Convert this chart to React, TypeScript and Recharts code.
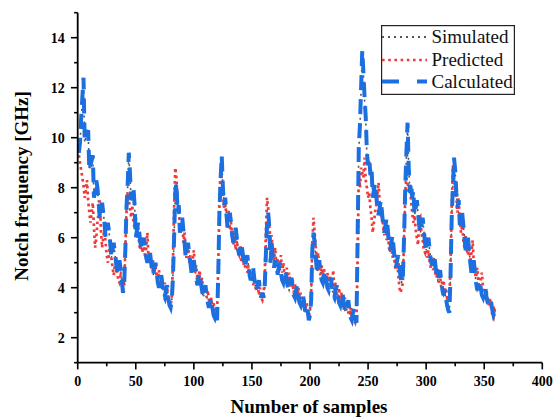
import React from 'react';
import { LineChart, Line, XAxis, YAxis, Legend, Label } from 'recharts';

const xTicks = [0, 25, 50, 75, 100, 125, 150, 175, 200, 225, 250, 275, 300, 325, 350, 375, 400];
const yTicks = [1, 2, 3, 4, 5, 6, 7, 8, 9, 10, 11, 12, 13, 14, 15];
const seriesNames = ['Simulated', 'Predicted', 'Calculated'];

const simulated = [
  9.4, 9.7, 10.7, 11.5, 12.3, 9.8, 10.0, 10.2, 10.2, 8.7, 8.9, 9.0, 9.2, 7.6, 7.9, 8.2, 7.9, 7.4, 6.8, 7.1, 7.3, 7.0, 6.6, 6.0, 6.3, 6.5, 6.2, 5.8, 5.2, 5.5, 5.7, 5.4, 5.0, 4.6, 4.8, 5.0, 4.7, 4.3, 3.8, 4.1,
  5.5, 7.1, 8.0, 9.3, 8.5, 7.5, 7.7, 7.9, 7.3, 6.0, 6.3, 6.5, 6.2, 5.8, 5.5, 5.7, 5.9, 5.6, 5.2, 5.0, 5.2, 5.4, 5.1, 4.7, 4.5, 4.7, 4.9, 4.6, 4.2, 4.0, 4.2, 4.4, 4.1, 3.7, 3.6, 3.8, 4.0, 3.6, 3.3, 3.2,
  3.5, 4.5, 6.0, 7.7, 8.2, 7.0, 7.2, 6.2, 6.4, 6.7, 6.3, 5.8, 5.2, 5.4, 5.7, 5.3, 5.0, 4.6, 4.8, 5.0, 4.7, 4.4, 4.1, 4.3, 4.5, 4.2, 3.9, 3.6, 3.8, 4.0, 3.7, 3.4, 3.2, 3.3, 3.5, 3.2, 2.9, 2.8, 3.0, 2.7,
  4.6, 7.0, 8.3, 9.2, 8.0, 7.3, 7.5, 7.0, 6.4, 6.6, 6.9, 6.6, 6.1, 5.8, 6.0, 6.3, 6.0, 5.6, 5.3, 5.5, 5.7, 5.4, 5.0, 4.8, 5.0, 5.2, 4.9, 4.5, 4.3, 4.5, 4.7, 4.4, 4.0, 3.9, 4.0, 4.2, 3.9, 3.6, 3.8, 3.6,
  4.0, 5.3, 6.4, 7.0, 6.4, 5.0, 5.7, 5.2, 4.8, 5.0, 4.6, 4.5, 4.7, 4.9, 4.6, 4.3, 4.2, 4.4, 4.6, 4.3, 4.0, 3.9, 4.1, 4.3, 4.0, 3.7, 3.6, 3.8, 4.0, 3.7, 3.4, 3.3, 3.5, 3.6, 3.3, 3.0, 2.9, 3.1, 2.7, 2.9,
  3.6, 5.5, 6.2, 5.8, 5.2, 4.6, 4.8, 5.0, 4.6, 4.3, 4.2, 4.4, 4.6, 4.3, 4.0, 3.9, 4.1, 4.3, 4.0, 3.7, 3.6, 3.8, 4.0, 3.7, 3.4, 3.3, 3.5, 3.7, 3.4, 3.1, 3.0, 3.2, 3.4, 3.1, 2.8, 2.7, 2.9, 3.1, 2.8, 2.6,
  6.0, 9.5, 10.4, 11.9, 13.4, 12.5, 11.5, 10.7, 9.3, 8.9, 9.1, 8.5, 8.7, 7.6, 7.8, 8.1, 7.7, 7.2, 6.9, 7.1, 7.4, 7.0, 6.5, 6.2, 6.4, 6.7, 6.3, 5.8, 5.5, 5.7, 6.0, 5.6, 5.1, 4.8, 5.0, 5.2, 4.8, 4.4, 4.2, 4.4,
  6.0, 8.0, 9.3, 10.5, 8.8, 7.8, 8.1, 7.6, 7.8, 6.9, 7.1, 7.4, 7.0, 6.5, 6.2, 6.4, 6.7, 6.3, 5.8, 5.5, 5.7, 5.9, 5.5, 5.1, 4.9, 5.0, 5.2, 4.9, 4.5, 4.3, 4.4, 4.6, 4.3, 3.9, 3.7, 3.8, 3.6, 3.3, 3.1, 3.0,
  4.5, 6.8, 8.0, 9.1, 8.6, 7.8, 7.2, 7.4, 6.5, 6.7, 6.9, 6.5, 6.0, 5.5, 5.7, 5.9, 5.5, 5.0, 4.6, 4.8, 5.0, 4.6, 4.2, 3.9, 4.0, 4.2, 4.0, 3.7, 3.6, 3.7, 3.9, 3.6, 3.4, 3.3, 3.4, 3.4, 3.1, 2.9, 3.0, 2.9,
];

const predicted = [
  9.3, 9.0, 8.7, 8.4, 8.1, 7.6, 7.9, 8.3, 7.5, 7.0, 6.6, 7.0, 7.4, 6.4, 5.6, 6.0, 6.6, 7.0, 7.5, 6.3, 5.6, 6.0, 6.4, 5.8, 5.3, 5.0, 5.4, 5.8, 5.2, 4.8, 4.5, 4.9, 5.2, 4.6, 4.3, 4.2, 4.5, 4.4, 4.0, 4.1,
  5.5, 7.0, 7.8, 7.5, 7.2, 6.8, 7.3, 6.6, 6.4, 6.9, 6.0, 6.4, 5.7, 5.5, 5.9, 5.4, 5.8, 5.2, 5.6, 6.2, 5.1, 5.4, 4.9, 4.7, 5.1, 4.6, 4.9, 4.4, 4.3, 4.7, 4.2, 4.5, 4.0, 3.9, 4.2, 3.8, 4.0, 3.6, 3.4, 3.3,
  3.6, 5.0, 7.2, 8.8, 8.4, 7.5, 7.0, 6.6, 6.2, 6.7, 5.8, 6.2, 5.5, 5.2, 5.8, 5.0, 5.3, 4.8, 5.1, 5.5, 4.6, 4.9, 4.4, 4.3, 4.7, 4.1, 4.4, 3.9, 3.8, 4.1, 3.6, 3.9, 3.5, 3.3, 3.6, 3.2, 3.4, 3.0, 3.2, 3.1,
  4.8, 7.5, 8.8, 8.2, 7.8, 7.2, 7.5, 6.8, 6.6, 7.1, 6.3, 6.6, 6.0, 5.7, 6.2, 5.5, 5.9, 5.4, 5.3, 5.7, 5.0, 5.4, 4.9, 4.8, 5.2, 4.6, 4.9, 4.5, 4.3, 4.7, 4.1, 4.4, 4.0, 3.9, 4.2, 3.7, 4.0, 3.6, 3.5, 3.7,
  4.5, 6.2, 7.6, 7.2, 6.5, 5.8, 6.1, 5.3, 5.1, 5.6, 4.9, 5.2, 4.7, 4.9, 5.3, 4.6, 5.0, 4.5, 4.4, 4.8, 4.2, 4.6, 4.1, 4.0, 4.4, 3.8, 4.2, 3.7, 3.6, 4.0, 3.5, 3.8, 3.3, 3.2, 3.6, 3.1, 3.4, 3.0, 2.9, 3.1,
  3.8, 5.8, 6.8, 6.2, 5.6, 5.0, 5.4, 4.7, 4.5, 4.9, 4.4, 4.8, 4.3, 4.2, 4.6, 4.1, 4.5, 4.0, 4.2, 4.7, 3.9, 4.2, 3.7, 3.6, 4.0, 3.5, 3.8, 3.3, 3.2, 3.6, 3.1, 3.4, 3.0, 2.9, 3.2, 2.8, 3.0, 2.7, 2.6, 2.8,
  5.0, 8.5, 8.0, 8.8, 8.6, 8.4, 9.2, 8.3, 8.0, 7.6, 7.8, 7.2, 6.8, 6.2, 6.6, 7.0, 7.3, 7.7, 8.2, 7.4, 6.8, 7.1, 6.4, 6.1, 6.6, 5.9, 6.2, 5.6, 5.4, 5.8, 5.2, 5.5, 4.9, 4.7, 5.1, 4.5, 4.0, 3.8, 4.0, 4.2,
  6.0, 7.6, 8.4, 8.2, 7.8, 8.0, 7.5, 7.0, 6.6, 6.9, 6.3, 6.0, 5.7, 6.7, 6.8, 6.2, 5.9, 5.5, 5.4, 5.9, 5.2, 5.5, 5.0, 4.8, 5.2, 4.7, 5.0, 4.5, 4.4, 4.8, 4.2, 4.5, 4.0, 3.9, 4.3, 3.8, 4.0, 3.6, 3.7, 3.5,
  5.0, 7.2, 8.9, 8.4, 8.0, 7.6, 7.0, 7.6, 6.7, 6.2, 6.5, 5.9, 5.6, 6.1, 5.5, 5.3, 5.6, 5.0, 5.4, 5.9, 5.0, 4.6, 4.4, 4.8, 4.2, 4.0, 4.4, 4.6, 4.0, 3.8, 3.6, 3.9, 3.5, 3.3, 3.6, 3.2, 2.9, 2.8, 3.1, 3.0,
];

const calculated = [
  9.4, 9.8, 10.8, 11.6, 12.4, 9.9, 10.1, 10.2, 10.3, 8.7, 8.9, 9.1, 9.3, 7.6, 7.9, 8.3, 8.0, 7.4, 6.8, 7.1, 7.4, 7.0, 6.6, 6.0, 6.3, 6.6, 6.2, 5.8, 5.2, 5.5, 5.8, 5.4, 5.0, 4.6, 4.8, 5.1, 4.7, 4.3, 3.8, 4.1,
  5.5, 7.2, 8.1, 9.4, 8.6, 7.5, 7.8, 8.0, 7.3, 6.0, 6.3, 6.6, 6.2, 5.8, 5.5, 5.8, 6.0, 5.6, 5.2, 5.0, 5.3, 5.5, 5.1, 4.7, 4.5, 4.8, 5.0, 4.6, 4.2, 4.0, 4.3, 4.5, 4.1, 3.7, 3.6, 3.9, 4.1, 3.6, 3.3, 3.2,
  3.5, 4.4, 6.0, 7.8, 8.2, 7.0, 7.3, 6.2, 6.5, 6.8, 6.3, 5.8, 5.2, 5.5, 5.8, 5.3, 5.0, 4.6, 4.9, 5.1, 4.7, 4.4, 4.1, 4.4, 4.6, 4.2, 3.9, 3.6, 3.9, 4.1, 3.7, 3.4, 3.2, 3.4, 3.6, 3.2, 2.9, 2.8, 3.0, 2.7,
  4.5, 7.0, 8.3, 9.3, 8.0, 7.3, 7.6, 7.0, 6.4, 6.7, 7.0, 6.6, 6.1, 5.8, 6.1, 6.4, 6.0, 5.6, 5.3, 5.6, 5.8, 5.4, 5.0, 4.8, 5.1, 5.3, 4.9, 4.5, 4.3, 4.6, 4.8, 4.4, 4.0, 3.9, 4.1, 4.3, 3.9, 3.6, 3.8, 3.6,
  4.0, 5.3, 6.5, 7.0, 6.4, 5.0, 5.8, 5.2, 4.8, 5.1, 4.6, 4.5, 4.8, 5.0, 4.6, 4.3, 4.2, 4.5, 4.7, 4.3, 4.0, 3.9, 4.2, 4.4, 4.0, 3.7, 3.6, 3.9, 4.1, 3.7, 3.4, 3.3, 3.5, 3.7, 3.3, 3.0, 2.9, 3.1, 2.7, 2.9,
  3.5, 5.5, 6.2, 5.8, 5.2, 4.6, 4.9, 5.1, 4.6, 4.3, 4.2, 4.5, 4.7, 4.3, 4.0, 3.9, 4.2, 4.4, 4.0, 3.7, 3.6, 3.9, 4.1, 3.7, 3.4, 3.3, 3.6, 3.8, 3.4, 3.1, 3.0, 3.3, 3.5, 3.1, 2.8, 2.7, 3.0, 3.2, 2.8, 2.6,
  6.0, 9.6, 10.5, 12.0, 13.5, 12.6, 11.6, 10.8, 9.4, 8.9, 9.2, 8.5, 8.8, 7.6, 7.9, 8.2, 7.7, 7.2, 6.9, 7.2, 7.5, 7.0, 6.5, 6.2, 6.5, 6.8, 6.3, 5.8, 5.5, 5.8, 6.1, 5.6, 5.1, 4.8, 5.1, 5.3, 4.8, 4.4, 4.2, 4.5,
  6.0, 8.0, 9.4, 10.6, 8.8, 7.8, 8.2, 7.6, 7.9, 6.9, 7.2, 7.5, 7.0, 6.5, 6.2, 6.5, 6.8, 6.3, 5.8, 5.5, 5.8, 6.0, 5.5, 5.1, 4.9, 5.1, 5.3, 4.9, 4.5, 4.3, 4.5, 4.7, 4.3, 3.9, 3.7, 3.9, 3.6, 3.3, 3.1, 3.0,
  4.5, 6.8, 8.0, 9.2, 8.7, 7.8, 7.2, 7.5, 6.5, 6.8, 7.0, 6.5, 6.0, 5.5, 5.8, 6.0, 5.5, 5.0, 4.6, 4.9, 5.1, 4.6, 4.2, 3.9, 4.1, 4.3, 4.0, 3.7, 3.6, 3.8, 4.0, 3.6, 3.4, 3.3, 3.5, 3.4, 3.1, 2.9, 3.0, 2.9,
];

const samples = calculated.map((_, i) => i + 1);

const data = samples.map((s, i) => ({
  s,
  sim: simulated[i],
  pred: predicted[i],
  calc: calculated[i],
}));

const FONT = '"Liberation Serif", "Times New Roman", Times, serif';
const BLUE = '#1b6fe0';
const RED = '#f03a3a';
const GRAY = '#555555';

const XTick = (props: any) => {
  const { x, y, payload } = props;
  const major = payload.value % 50 === 0;
  return (
    <g>
      <line x1={x} x2={x} y1={y} y2={y + (major ? 6.7 : 3.6)} stroke="#000" strokeWidth={1.6} />
      {major && (
        <text x={x} y={y + 23} textAnchor="middle" fontFamily={FONT} fontWeight="bold" fontSize={14} fill="#000">
          {payload.value}
        </text>
      )}
    </g>
  );
};

const YTick = (props: any) => {
  const { x, y, payload } = props;
  const major = payload.value % 2 === 0;
  return (
    <g>
      <line x1={x} x2={x - (major ? 6.7 : 3.6)} y1={y} y2={y} stroke="#000" strokeWidth={1.6} />
      {major && (
        <text x={x - 13} y={y + 5} textAnchor="end" fontFamily={FONT} fontWeight="bold" fontSize={14} fill="#000">
          {payload.value}
        </text>
      )}
    </g>
  );
};

const XTitle = () => (
  <text x={309} y={413} textAnchor="middle" fontFamily={FONT} fontWeight="bold" fontSize={19} fill="#000">
    Number of samples
  </text>
);

const YTitle = () => (
  <text
    x={28}
    y={186}
    transform="rotate(-90 28 186)"
    textAnchor="middle"
    fontFamily={FONT}
    fontWeight="bold"
    fontSize={19}
    fill="#000"
  >
    Notch frequency [GHz]
  </text>
);

const legendStyles = [
  { color: GRAY, width: 2, dash: '2 4' },
  { color: RED, width: 2.6, dash: '2.6 3.6' },
  { color: BLUE, width: 3.8, dash: '17 18' },
];

const LegendBox = () => {
  const rows = [12, 35, 56.5];
  return (
    <svg width={134} height={70} style={{ display: 'block' }}>
      <rect x={0.6} y={0.6} width={132.8} height={68.8} fill="#fff" stroke="#222" strokeWidth={1.2} />
      {seriesNames.map((name, i) => (
        <g key={name}>
          <line
            x1={1}
            x2={46}
            y1={rows[i]}
            y2={rows[i]}
            stroke={legendStyles[i].color}
            strokeWidth={legendStyles[i].width}
            strokeDasharray={legendStyles[i].dash}
          />
          <text x={50.5} y={rows[i] + 6.3} fontFamily={FONT} fontSize={19} fill="#111">
            {name}
          </text>
        </g>
      ))}
    </svg>
  );
};

export default function App() {
  return (
    <div style={{ position: 'absolute', left: 0, top: 0, width: 554, height: 419, background: '#fff' }}>
      <LineChart
        width={554}
        height={419}
        data={data}
        margin={{ top: 12.7, right: 11.7, bottom: 0, left: 0 }}
      >
        <XAxis
          dataKey="s"
          type="number"
          domain={[0, 400]}
          ticks={xTicks}
          interval={0}
          height={56.3}
          tickSize={0}
          tickMargin={0}
          tickLine={false}
          axisLine={{ stroke: '#000', strokeWidth: 1.8 }}
          tick={<XTick />}
          allowDataOverflow
        >
          <Label content={<XTitle />} />
        </XAxis>
        <YAxis
          type="number"
          domain={[1, 15]}
          ticks={yTicks}
          interval={0}
          width={77.7}
          tickSize={0}
          tickMargin={0}
          tickLine={false}
          axisLine={{ stroke: '#000', strokeWidth: 1.8 }}
          tick={<YTick />}
          allowDataOverflow
        >
          <Label content={<YTitle />} />
        </YAxis>
        <Legend
          layout="horizontal"
          verticalAlign="middle"
          align="center"
          content={<LegendBox />}
          wrapperStyle={{ position: 'absolute', left: 381, top: 25, width: 134, height: 70 }}
        />
        <Line
          dataKey="sim"
          name="Simulated"
          type="linear"
          stroke={GRAY}
          strokeWidth={1.6}
          strokeDasharray="2 4"
          dot={false}
          isAnimationActive={false}
        />
        <Line
          dataKey="pred"
          name="Predicted"
          type="linear"
          stroke={RED}
          strokeWidth={2.7}
          strokeDasharray="2.7 3.3"
          dot={false}
          isAnimationActive={false}
        />
        <Line
          dataKey="calc"
          name="Calculated"
          type="linear"
          stroke={BLUE}
          strokeWidth={4}
          strokeDasharray="15 9"
          dot={false}
          isAnimationActive={false}
        />
      </LineChart>
    </div>
  );
}
